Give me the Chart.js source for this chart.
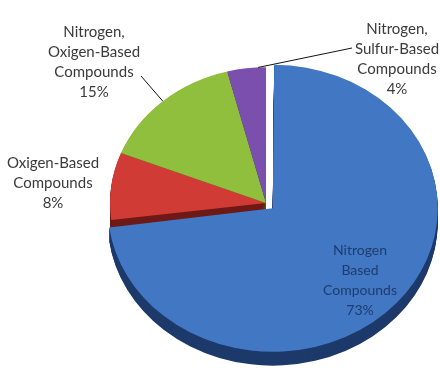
<!DOCTYPE html>
<html>
<head>
<meta charset="utf-8">
<script src="https://cdn.jsdelivr.net/npm/chart.js@4/dist/chart.umd.min.js"></script>
<style>
  html, body { margin: 0; padding: 0; background: #fff; }
  #wrap { width: 440px; height: 372px; }
</style>
</head>
<body>
<div id="wrap"><canvas id="pie" width="440" height="372"></canvas></div>
<script>
// data, clockwise from 12 o'clock
const categories = ['Nitrogen Based Compounds', 'Oxigen-Based Compounds', 'Nitrogen, Oxigen-Based Compounds', 'Nitrogen, Sulfur-Based Compounds'];
const shares = [73, 8, 15, 4];
const labelLines = [
    ['Nitrogen', 'Based', 'Compounds'],
    ['Oxigen-Based', 'Compounds'],
    ['Nitrogen,', 'Oxigen-Based', 'Compounds'],
    ['Nitrogen,', 'Sulfur-Based', 'Compounds']
];
const faceColors = ['#4177c3', '#d03b35', '#8fbf3d', '#7a4fae'];
const sideColors = ['#1d3a6b', '#6e1a16', '#4d6b1c', '#3f2760'];

const SQUASH = 0.87;   // flatten the pie to look tilted
const FACE_Y = 203;    // where the pie centre ends up on the page
const DEPTH = 16;      // thickness of the pie side, before flattening

// where each label block sits and where its leader line starts/ends
const labelSpots = [
    { x: 360, y: 250, color: '#1f3c6e', size: 14, lead: null },
    { x: 53, y: 163, color: '#3a3a3a', size: 15, lead: null },
    { x: 94, y: 32, color: '#3a3a3a', size: 15, lead: [141, 76], at: 0.5 },
    { x: 397, y: 29, color: '#3a3a3a', size: 15, lead: [352, 48], at: 0.8 }
];

const pseudo3d = {
    id: 'pseudo3d',
    beforeDatasetsDraw(chart) {
        const ctx = chart.ctx;
        const arcs = chart.getDatasetMeta(0).data;
        ctx.save();
        ctx.translate(0, FACE_Y);
        ctx.scale(1, SQUASH);
        ctx.translate(0, -arcs[0].y);
        // side of the pie: same arcs, drawn darker and pushed down
        for (let d = DEPTH; d >= 1; d--) {
            arcs.forEach((arc, i) => {
                const side = Object.create(arc);
                side.options = Object.assign({}, arc.options, { backgroundColor: sideColors[i], borderWidth: 0 });
                ctx.save();
                ctx.translate(0, d);
                side.draw(ctx);
                ctx.restore();
            });
        }
    },
    afterDatasetsDraw(chart) {
        const ctx = chart.ctx;
        const arcs = chart.getDatasetMeta(0).data;
        const cy = arcs[0].y;
        ctx.restore();

        ctx.textAlign = 'center';
        ctx.textBaseline = 'middle';
        const lineH = 20;
        arcs.forEach((arc, i) => {
            const spot = labelSpots[i];
            const lines = labelLines[i].concat([shares[i] + '%']);
            ctx.font = spot.size + 'px Lato';
            ctx.fillStyle = spot.color;
            lines.forEach((t, k) => ctx.fillText(t, spot.x, spot.y + k * lineH));
            if (spot.lead) {
                const a = arc.startAngle + (arc.endAngle - arc.startAngle) * spot.at;
                const ex = arc.x + Math.cos(a) * arc.outerRadius;
                const ey = FACE_Y + (arc.y - cy + Math.sin(a) * arc.outerRadius) * SQUASH;
                ctx.strokeStyle = '#111';
                ctx.lineWidth = 1;
                ctx.beginPath();
                ctx.moveTo(spot.lead[0], spot.lead[1]);
                ctx.lineTo(ex, ey);
                ctx.stroke();
            }
        });
    }
};

new Chart(document.getElementById('pie').getContext('2d'), {
    type: 'pie',
    data: {
        labels: categories,
        datasets: [{
            data: shares,
            backgroundColor: faceColors,
            borderWidth: 0,
            offset: [36, 0, 0, 0],
            clip: false
        }]
    },
    options: {
        responsive: false,
        animation: false,
        devicePixelRatio: 1,
        layout: { padding: { left: 92, right: 0, top: 12, bottom: 12 } },
        plugins: {
            legend: { display: false },
            tooltip: { enabled: false }
        }
    },
    plugins: [pseudo3d]
});
</script>
</body>
</html>
